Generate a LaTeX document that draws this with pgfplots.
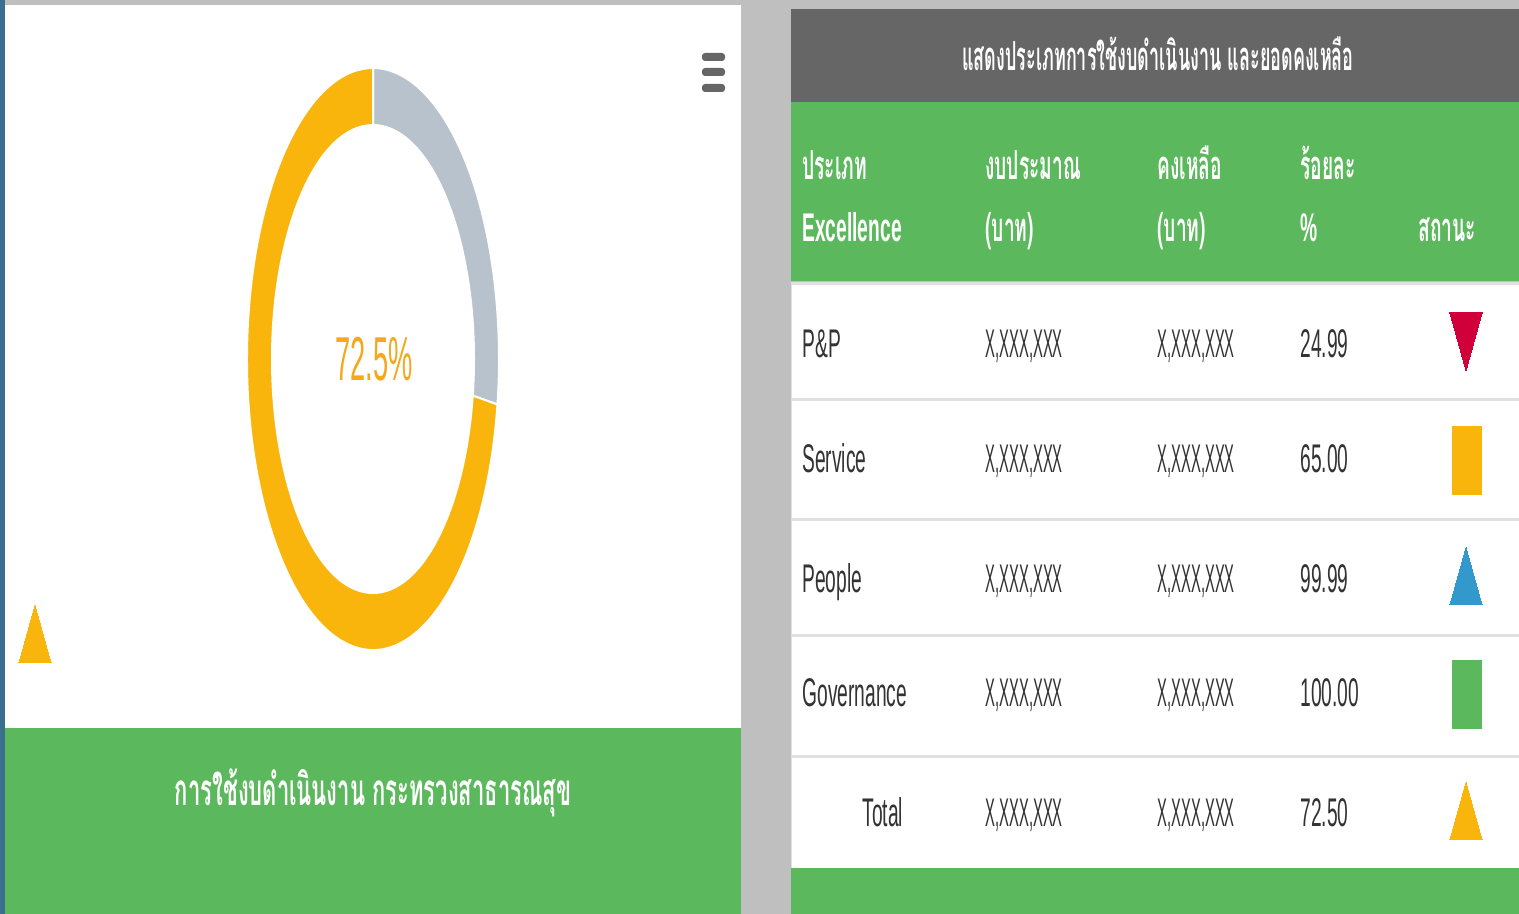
\documentclass[border=0pt]{standalone}
\usepackage{pgfplots}
\pgfplotsset{compat=1.18}
\usepackage{pgfplotstable}
\usepackage{fontspec}
\setmainfont{Liberation Sans}[FakeStretch=0.48]
\newfontfamily\xfont{Liberation Sans}[FakeStretch=0.37]
\newfontfamily\pfont{Liberation Sans}[FakeStretch=0.44]
\newfontfamily\thai[Script=Thai,FakeStretch=0.48]{Loma}
\newfontfamily\thaititle[Script=Thai,FakeStretch=0.45]{Loma}
\newfontfamily\thaicap[Script=Thai,FakeStretch=0.50]{Loma}
\definecolor{gyellow}{HTML}{F9B50B}
\definecolor{ggray}{HTML}{B8C2CC}
\definecolor{ggreen}{HTML}{5CB85C}
\definecolor{dhead}{HTML}{666666}
\definecolor{bgray}{HTML}{BFBFBF}
\definecolor{redi}{HTML}{D0003A}
\definecolor{bluei}{HTML}{3399CC}
\definecolor{otxt}{HTML}{F5A81C}
\definecolor{txtc}{HTML}{333333}
\definecolor{sepc}{HTML}{E0E0E0}
\definecolor{edgec}{HTML}{3A6F8F}

\pgfplotstableread{
part value
used 72.5
rest 27.5
}\donut
\pgfplotstableread{
x y pct
1300 343 24.99
1300 458 65.00
1300 578 99.99
1300 692 100.00
1300 812 72.50
}\pcts

\pgfplotstablegetelem{1}{value}\of\donut
\pgfmathsetmacro\aone{90-3.6*\pgfplotsretval}

\tikzset{lbl/.style={anchor=west,inner sep=0pt,text height=14.3pt,text depth=0pt,font=\fontsize{20}{24}\selectfont,text=txtc},
hlbl/.style={anchor=west,inner sep=0pt,text height=14.3pt,text depth=0pt,font=\fontsize{20}{24}\selectfont\bfseries,text=white}}

\begin{document}
\begin{tikzpicture}
\begin{scope}[x=0.5pt,y=-0.5pt]
% backgrounds
\fill[bgray] (0,0) rectangle (1519,914);
\fill[edgec] (0,0) rectangle (5,914);
\fill[white] (5,5) rectangle (741,728);
\fill[ggreen] (5,728) rectangle (741,914);
\fill[white] (791,282) rectangle (1519,868);
\fill[dhead] (791,9) rectangle (1519,102);
\fill[ggreen] (791,102) rectangle (1519,281);
\fill[ggreen] (791,868) rectangle (1519,914);
\foreach \yy in {282,398,518,634,755}{\fill[sepc] (791,\yy) rectangle (1519,\yy+3);}
\draw[sepc,line width=0.5pt] (791,282) -- (791,868);
% hamburger
\foreach \yy in {53,68,84}{\fill[dhead,rounded corners=1.5pt] (702,\yy) rectangle (725,\yy+8);}
% texts
\node[font=\fontsize{20}{24}\selectfont\thaititle\bfseries,text=white] at (1158,54) {แสดงประเภทการใช้งบดำเนินงาน และยอดคงเหลือ};
\node[font=\fontsize{22}{26}\selectfont\thaicap\bfseries,text=white] at (373,793) {การใช้งบดำเนินงาน กระทรวงสาธารณสุข};
\node[hlbl,font=\fontsize{20}{24}\selectfont\thai\bfseries] at (802,165) {ประเภท};
\node[hlbl] at (802,227) {Excellence};
\node[hlbl,font=\fontsize{20}{24}\selectfont\thai\bfseries] at (985,165) {งบประมาณ};
\node[hlbl,font=\fontsize{20}{24}\selectfont\thai\bfseries] at (985,227) {(บาท)};
\node[hlbl,font=\fontsize{20}{24}\selectfont\thai\bfseries] at (1157,165) {คงเหลือ};
\node[hlbl,font=\fontsize{20}{24}\selectfont\thai\bfseries] at (1157,227) {(บาท)};
\node[hlbl,font=\fontsize{20}{24}\selectfont\thai\bfseries] at (1300,165) {ร้อยละ};
\node[hlbl] at (1300,227) {\%};
\node[hlbl,font=\fontsize{20}{24}\selectfont\thai\bfseries] at (1418,227) {สถานะ};
\node[lbl] at (802,343) {P\&P};
\node[lbl] at (802,458) {Service};
\node[lbl] at (802,578) {People};
\node[lbl] at (802,692) {Governance};
\node[lbl] at (862,812) {Total};
\foreach \yy in {343,458,578,692,812}{
  \node[lbl,font=\fontsize{20}{24}\selectfont\xfont] at (985,\yy) {X,XXX,XXX};
  \node[lbl,font=\fontsize{20}{24}\selectfont\xfont] at (1157,\yy) {X,XXX,XXX};
}
\node[font=\fontsize{31}{36}\selectfont\pfont,text=otxt] at (374,359) {72.5\%};
\end{scope}
\begin{axis}[hide axis, scale only axis, width=759.5pt, height=457pt,
  xmin=0, xmax=1519, ymin=0, ymax=914, y dir=reverse, clip=false,
  anchor=north west, at={(0,0)}]
% donut (angles from the table values)
\fill[ggray,draw=white,line width=1pt] (axis cs:373,68) arc[start angle=90,end angle=\aone,x radius=63pt,y radius=145.5pt]
  -- (axis cs:{373+101*cos(\aone)},{359-234*sin(\aone)}) arc[start angle=\aone,end angle=90,x radius=50.5pt,y radius=117pt] -- cycle;
\fill[gyellow,draw=white,line width=1pt] (axis cs:{373+126*cos(\aone)},{359-291*sin(\aone)}) arc[start angle=\aone,end angle=-270,x radius=63pt,y radius=145.5pt]
  -- (axis cs:373,125) arc[start angle=-270,end angle=\aone,x radius=50.5pt,y radius=117pt] -- cycle;
% percentages
\addplot[only marks, mark=none, point meta=explicit,
  nodes near coords={\pgfmathprintnumber[fixed,fixed zerofill,precision=2,assume math mode=true]{\pgfplotspointmeta}},
  nodes near coords align={anchor=west},
  every node near coord/.append style={font=\fontsize{20}{24}\selectfont,text=txtc,inner sep=0pt,text height=14.3pt,text depth=0pt}]
  table[x=x,y=y,meta=pct]{\pcts};
% status markers
\addplot[only marks, mark=triangle*, color=redi, mark size=9.3pt, mark options={rotate=180,yscale=2.07,line width=0pt}] coordinates {(1466,332)};
\addplot[only marks, mark=triangle*, color=bluei, mark size=9.3pt, mark options={yscale=2.07,line width=0pt}] coordinates {(1466,585.5)};
\addplot[only marks, mark=triangle*, color=gyellow, mark size=9.3pt, mark options={yscale=2.07,line width=0pt}] coordinates {(1466,820.5) (35,643.5)};
\addplot[only marks, mark=square*, color=gyellow, mark size=7.25pt, mark options={yscale=2.345,line width=0pt}] coordinates {(1466.5,460)};
\addplot[only marks, mark=square*, color=ggreen, mark size=7.25pt, mark options={yscale=2.345,line width=0pt}] coordinates {(1466.5,694)};
\end{axis}
\end{tikzpicture}
\end{document}
